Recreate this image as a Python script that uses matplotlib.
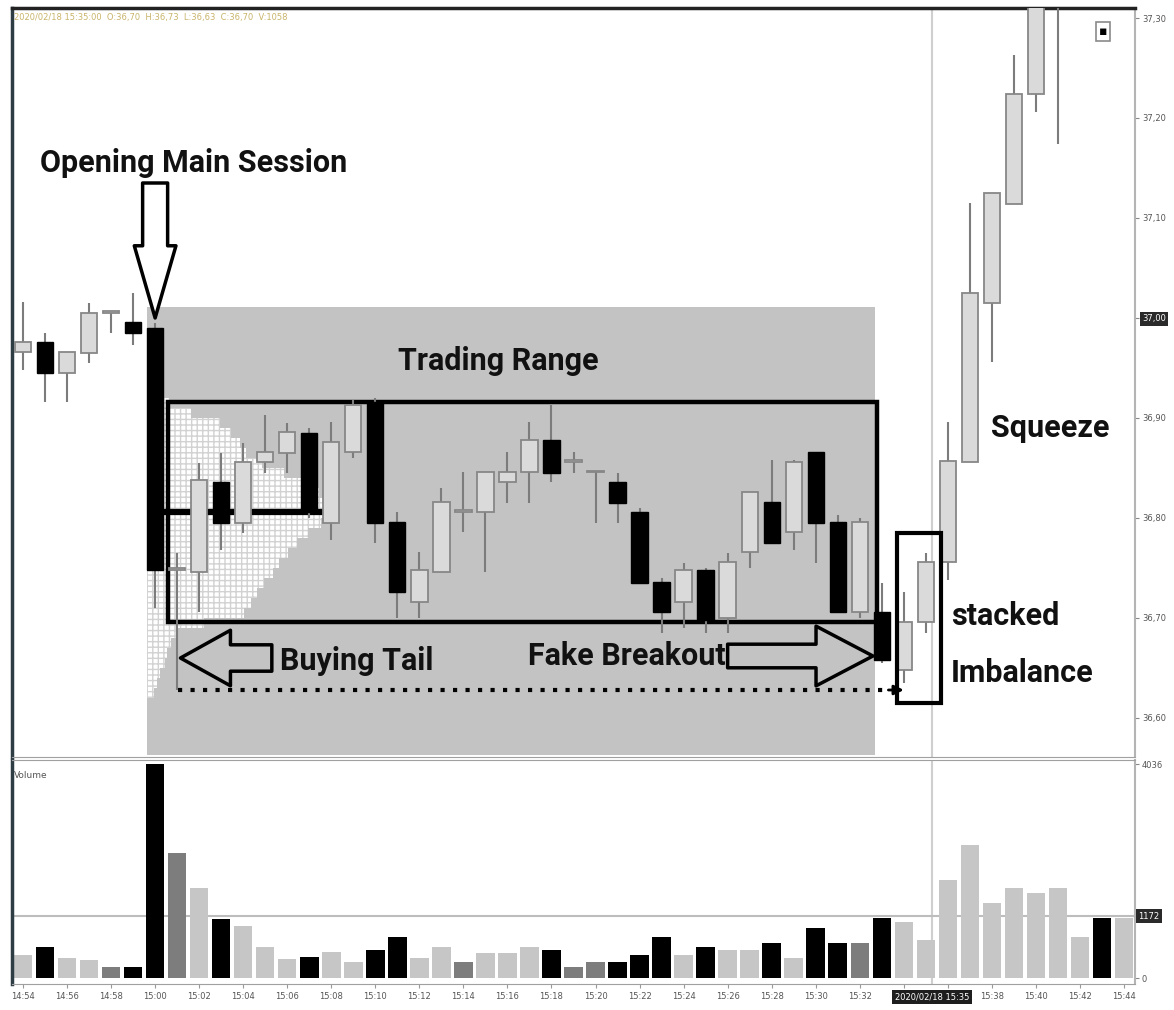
import numpy as np
import matplotlib.pyplot as plt
from matplotlib.patches import Rectangle
import matplotlib.transforms as mtransforms

# --- data: one-minute candles from 14:54 to 15:44 ---
opens = [36.966, 36.976, 36.945, 36.965, 37.005, 36.996, 36.990, 36.748, 36.746, 36.836,
         36.795, 36.856, 36.865, 36.885, 36.795, 36.866, 36.916, 36.796, 36.716, 36.746,
         36.806, 36.806, 36.836, 36.846, 36.878, 36.856, 36.846, 36.836, 36.806, 36.736,
         36.716, 36.748, 36.700, 36.766, 36.816, 36.786, 36.866, 36.796, 36.706, 36.706,
         36.648, 36.696, 36.756, 36.856, 37.015, 37.114, 37.224, 37.360, 37.420, 37.450,
         37.400]
highs = [37.016, 36.985, 36.966, 37.015, 37.005, 37.025, 36.995, 36.765, 36.855, 36.865,
         36.875, 36.903, 36.895, 36.890, 36.896, 36.918, 36.920, 36.806, 36.766, 36.830,
         36.846, 36.846, 36.866, 36.896, 36.913, 36.866, 36.847, 36.845, 36.810, 36.740,
         36.755, 36.750, 36.765, 36.826, 36.858, 36.858, 36.866, 36.803, 36.800, 36.735,
         36.726, 36.765, 36.896, 37.115, 37.125, 37.263, 37.360, 37.440, 37.470, 37.470,
         37.450]
lows = [36.948, 36.916, 36.916, 36.955, 36.985, 36.973, 36.710, 36.628, 36.706, 36.768,
        36.785, 36.845, 36.845, 36.800, 36.778, 36.860, 36.775, 36.700, 36.700, 36.746,
        36.786, 36.746, 36.815, 36.815, 36.836, 36.845, 36.795, 36.795, 36.735, 36.685,
        36.690, 36.685, 36.685, 36.750, 36.775, 36.768, 36.755, 36.706, 36.700, 36.655,
        36.635, 36.685, 36.738, 36.856, 36.956, 37.114, 37.206, 37.174, 37.380, 37.360,
        37.380]
closes = [36.976, 36.945, 36.966, 37.005, 37.005, 36.985, 36.748, 36.750, 36.838, 36.795,
          36.856, 36.866, 36.886, 36.806, 36.876, 36.913, 36.795, 36.726, 36.748, 36.816,
          36.807, 36.846, 36.846, 36.878, 36.845, 36.857, 36.846, 36.815, 36.735, 36.706,
          36.748, 36.698, 36.756, 36.826, 36.775, 36.856, 36.795, 36.706, 36.796, 36.658,
          36.696, 36.756, 36.857, 37.025, 37.125, 37.224, 37.340, 37.420, 37.450, 37.400,
          37.430]
volumes = [435, 586, 378, 340, 208, 208, 4036, 2363, 1700, 1115, 983, 586, 359, 397, 491,
           302, 529, 775, 378, 586, 302, 472, 472, 586, 529, 208, 302, 302, 435, 775, 435,
           586, 529, 529, 662, 378, 945, 662, 662, 1134, 1058, 718, 1852, 2514, 1418, 1700,
           1607, 1700, 775, 1134, 1134]
vol_kind = ['l', 'k', 'l', 'l', 'd', 'k', 'k', 'd', 'l', 'k', 'l', 'l', 'l', 'k', 'l', 'l',
            'k', 'k', 'l', 'l', 'd', 'l', 'l', 'l', 'k', 'd', 'd', 'k', 'k', 'k', 'l', 'k',
            'l', 'l', 'k', 'l', 'k', 'k', 'd', 'k', 'l', 'l', 'l', 'l', 'l', 'l', 'l', 'l',
            'l', 'k', 'l']

# volume profile of the trading range (price level -> size)
profile_levels = [36.62, 36.63, 36.64, 36.65, 36.66, 36.67, 36.68, 36.69, 36.70, 36.71,
                  36.72, 36.73, 36.74, 36.75, 36.76, 36.77, 36.78, 36.79, 36.80, 36.81,
                  36.82, 36.83, 36.84, 36.85, 36.86, 36.87, 36.88, 36.89, 36.90, 36.91]
profile_sizes = [0.3, 0.45, 0.6, 0.8, 0.9, 1.1, 1.4, 2.6, 4.4, 4.7, 5.0, 5.3, 5.7, 6.0, 6.4,
                 6.8, 7.3, 7.9, 8.6, 8.4, 7.8, 7.0, 6.2, 5.2, 4.5, 4.2, 3.8, 3.3, 2.0, 1.0]
poc_price = 36.806

tick_pos = list(range(0, 51, 2))
tick_labels = ['14:54', '14:56', '14:58', '15:00', '15:02', '15:04', '15:06', '15:08',
               '15:10', '15:12', '15:14', '15:16', '15:18', '15:20', '15:22', '15:24',
               '15:26', '15:28', '15:30', '15:32', '', '', '15:38', '15:40', '15:42', '15:44']
price_ticks = [36.6, 36.7, 36.8, 36.9, 37.0, 37.1, 37.2, 37.3]

# annotation geometry (data units)
open_idx = 6
range_lo, range_hi = 36.696, 36.916
range_x0, range_x1 = 6.6, 38.8
shade_x0, shade_x1 = 5.64, 38.7
shade_lo, shade_hi = 36.563, 37.011
tail_low = 36.628
cross_x = 41.3
cross_vol = 1172

x = np.arange(len(opens))
o = np.array(opens)
c = np.array(closes)
up = c >= o

fig = plt.figure(figsize=(11.74, 10.10), dpi=100)
ax = fig.add_axes([12 / 1174, 1 - 757 / 1010, 1123 / 1174, 749 / 1010])
axv = fig.add_axes([12 / 1174, 1 - 984 / 1010, 1123 / 1174, 224 / 1010], sharex=ax)

ax.set_xlim(-0.5, 50.5)
ax.set_ylim(36.561, 37.310)

# trading range shading + volume profile
ax.add_patch(Rectangle((shade_x0, shade_lo), shade_x1 - shade_x0, shade_hi - shade_lo,
                       fc='#c3c3c3', ec='none', zorder=0))
ax.barh(np.array(profile_levels) + 0.005, profile_sizes, height=0.01, left=shade_x0,
        color='white', hatch='+++', edgecolor='#d2d2d2', linewidth=0, zorder=1)
ax.plot([shade_x0, 14.2], [poc_price, poc_price], color='black', lw=4.5, zorder=2,
        solid_capstyle='butt')

ax.axvline(cross_x, color='#cfcfcf', lw=1.5, zorder=0.5)

# candles
ax.vlines(x, lows, highs, color='#7c7c7c', lw=1.5, zorder=4)
body_lo = np.minimum(o, c)
body_h = np.maximum(np.abs(c - o), 0.0015)
ax.bar(x[up], body_h[up], bottom=body_lo[up], width=0.74, color='#dadada',
       edgecolor='#878787', linewidth=1.3, zorder=5)
ax.bar(x[~up], body_h[~up], bottom=body_lo[~up], width=0.74, color='black',
       edgecolor='black', linewidth=1.0, zorder=5)

# range box, imbalance box
ax.add_patch(Rectangle((range_x0, range_lo), range_x1 - range_x0, range_hi - range_lo,
                       fill=False, ec='black', lw=3.2, zorder=3))
ax.add_patch(Rectangle((39.7, 36.615), 2.0, 0.17, fill=False, ec='black', lw=3, zorder=6))

# dotted tail line
ax.plot([7.05, 39.35], [tail_low, tail_low], color='black', lw=3, ls=(0, (1, 2)), zorder=6)
ax.annotate('', xy=(40.0, tail_low), xytext=(39.3, tail_low),
            arrowprops=dict(arrowstyle='-|>', mutation_scale=14, color='black', lw=2,
                            shrinkA=0, shrinkB=0), zorder=6)

# hollow arrows
ax.annotate('', xy=(open_idx, 37.0), xytext=(open_idx, 37.135),
            arrowprops=dict(arrowstyle='simple,head_length=52,head_width=30,tail_width=18',
                            mutation_scale=1, fc='white', ec='black', lw=2.5,
                            shrinkA=0, shrinkB=0), zorder=7)
ax.annotate('', xy=(7.15, 36.66), xytext=(11.3, 36.66),
            arrowprops=dict(arrowstyle='simple,head_length=36,head_width=40,tail_width=19',
                            mutation_scale=1, fc='none', ec='black', lw=2.5,
                            shrinkA=0, shrinkB=0), zorder=7)
ax.annotate('', xy=(38.6, 36.662), xytext=(32.0, 36.662),
            arrowprops=dict(arrowstyle='simple,head_length=41,head_width=43,tail_width=17',
                            mutation_scale=1, fc='none', ec='black', lw=2.5,
                            shrinkA=0, shrinkB=0), zorder=7)

# labels
lab = dict(fontsize=22, fontweight='bold', color='#111111',
           family=['Roboto', 'DejaVu Sans'], zorder=8)
ax.text(0.77, 37.146, 'Opening Main Session', ha='left', va='baseline', **lab)
ax.text(17.05, 36.948, 'Trading Range', ha='left', va='baseline', **lab)
ax.text(43.95, 36.881, 'Squeeze', ha='left', va='baseline', **lab)
ax.text(11.68, 36.648, 'Buying Tail', ha='left', va='baseline', **lab)
ax.text(22.95, 36.653, 'Fake Breakout', ha='left', va='baseline', **lab)
ax.text(42.14, 36.693, 'stacked', ha='left', va='baseline', **lab)
ax.text(42.14, 36.636, 'Imbalance', ha='left', va='baseline', **lab)

ax.text(0.002, 0.993, '2020/02/18 15:35:00  O:36,70  H:36,73  L:36,63  C:36,70  V:1058',
        transform=ax.transAxes, fontsize=6, color='#c9b46a', va='top', ha='left')
ax.text(0.9715, 0.969, '\u25aa', transform=ax.transAxes, fontsize=9, ha='center',
        va='center', bbox=dict(boxstyle='square,pad=0.25', fc='white', ec='#8a8a8a', lw=1.2))

# price axis
ax.yaxis.tick_right()
ax.set_yticks(price_ticks, [f'{p:.2f}'.replace('.', ',') for p in price_ticks])
ax.tick_params(axis='y', length=3, color='#888888', pad=2, labelsize=6, labelcolor='#555555')
plabels = ax.get_yticklabels()
plabels[4].set_color('white')
plabels[4].set_bbox(dict(fc='#2a2a2a', ec='none', pad=1.5))
ax.tick_params(axis='x', bottom=False, labelbottom=False)

# volume panel
colmap = {'k': 'black', 'l': '#c6c6c6', 'd': '#7d7d7d'}
axv.bar(x, volumes, width=0.84, color=[colmap[k] for k in vol_kind], zorder=2)
axv.set_ylim(-113, 4120)
axv.axvline(cross_x, color='#cfcfcf', lw=1.5, zorder=1)
axv.axhline(cross_vol, color='#bdbdbd', lw=1.5, zorder=1)
axv.yaxis.tick_right()
axv.set_yticks([0, 4036], ['0', '4036'])
axv.tick_params(axis='y', length=3, color='#888888', pad=2, labelsize=6, labelcolor='#555555')
axv.text(1.003, cross_vol, '1172', transform=mtransforms.blended_transform_factory(
    axv.transAxes, axv.transData), fontsize=6, color='white', va='center', ha='left',
    bbox=dict(fc='#2a2a2a', ec='none', pad=1.5))
axv.text(0.002, 0.93, 'Volume', transform=axv.transAxes, fontsize=6.5, color='#555555',
         va='center', ha='left')

axv.set_xticks(tick_pos, tick_labels)
axv.tick_params(axis='x', labelsize=6, labelcolor='#555555', length=3, color='#999999', pad=3)
axv.text(cross_x, -0.058, '2020/02/18 15:35', transform=mtransforms.blended_transform_factory(
    axv.transData, axv.transAxes), fontsize=6, color='white', ha='center', va='center',
    bbox=dict(fc='#1e1e1e', ec='none', pad=2))

for a in (ax, axv):
    a.spines['left'].set_color('#2e3c44')
    a.spines['left'].set_linewidth(2.5)
    a.spines['right'].set_color('#b4b4b4')
    a.spines['right'].set_linewidth(1.5)
    a.spines['bottom'].set_color('#a0a0a0')
    a.spines['top'].set_color('#a0a0a0')
ax.spines['top'].set_color('#222222')
ax.spines['top'].set_linewidth(2.5)

fig.savefig('out.png', dpi=100, facecolor='white')
